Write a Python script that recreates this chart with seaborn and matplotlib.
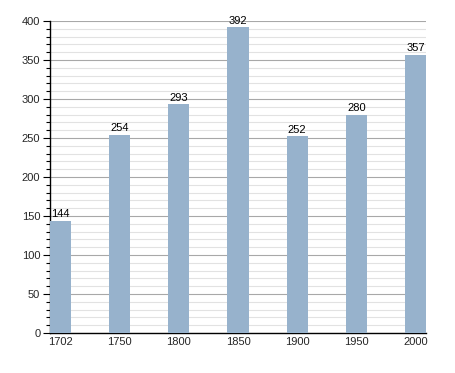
import matplotlib
matplotlib.use("Agg")
import matplotlib.pyplot as plt
import seaborn as sns
import pandas as pd
from matplotlib.ticker import MultipleLocator

years = ["1702", "1750", "1800", "1850", "1900", "1950", "2000"]
population = [144, 254, 293, 392, 252, 280, 357]

sns.set_theme(style="white")
plt.rcParams['font.family'] = ['Liberation Sans', 'DejaVu Sans']

df = pd.DataFrame({"year": years, "pop": population})

fig = plt.figure(figsize=(4.55, 3.73), dpi=100)
ax = fig.add_axes([50/455, 40/373, 376/455, 312/373])

sns.barplot(data=df, x="year", y="pop", color="#97b2cc", saturation=1,
            width=0.355, ax=ax, zorder=3, linewidth=0, edgecolor="none")

ax.set_ylim(0, 400)
ax.set_xlim(-0.178, 6.178)
ax.yaxis.set_major_locator(MultipleLocator(50))
ax.yaxis.set_minor_locator(MultipleLocator(10))
ax.grid(which="minor", axis="y", color="#e2e2e2", linewidth=0.8, zorder=0)
ax.grid(which="major", axis="y", color="#a8a8a8", linewidth=0.8, zorder=0)
ax.set_axisbelow(True)

for s in ["top", "right"]:
    ax.spines[s].set_visible(False)
for s in ["left", "bottom"]:
    ax.spines[s].set_color("black")
    ax.spines[s].set_linewidth(1.0)

ax.tick_params(axis="y", which="major", direction="out", length=5, width=0.8,
               color="black", left=True, labelsize=8, pad=2)
ax.tick_params(axis="y", which="minor", direction="out", length=3, width=0.8,
               color="black", left=True)
ax.tick_params(axis="x", length=0, labelsize=8, pad=3)
ax.set_xlabel("")
ax.set_ylabel("")

for i, v in enumerate(population):
    ax.text(i, v + 2, str(v), ha="center", va="bottom", fontsize=8, color="black")

fig.savefig("out.png", dpi=100)
